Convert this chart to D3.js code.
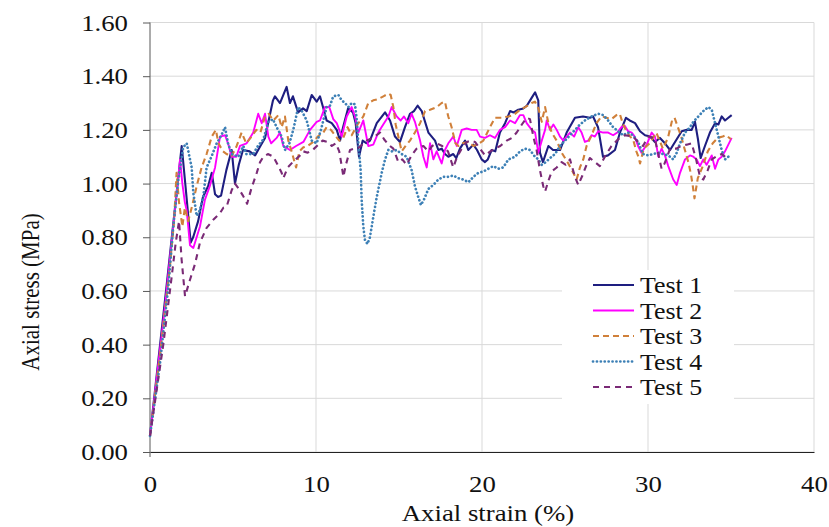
<!DOCTYPE html>
<html>
<head>
<meta charset="utf-8">
<script src="https://cdn.jsdelivr.net/npm/d3@7"></script>
<style>
  body { margin: 0; background: #fff; }
  svg { display: block; font-family: "Liberation Serif", "Times New Roman", serif; }
</style>
</head>
<body>
<div id="chart"></div>
<script>
// strain (%) , stress (MPa)
const test1 = [[0,0.06],[1.0,0.62],[1.91,1.14],[2.2,0.95],[2.45,0.78],[2.6,0.80],[2.9,0.86],[3.19,0.95],[3.5,0.99],[3.72,1.04],[3.92,0.96],[4.1,0.95],[4.28,0.955],[4.6,1.05],[4.92,1.125],[5.12,1.00],[5.35,1.07],[5.6,1.125],[6.0,1.12],[6.33,1.105],[6.65,1.14],[6.93,1.17],[7.2,1.25],[7.41,1.31],[7.53,1.325],[7.83,1.30],[8.23,1.36],[8.43,1.30],[8.61,1.325],[8.92,1.265],[9.22,1.28],[9.44,1.27],[9.74,1.33],[10.04,1.305],[10.24,1.325],[10.42,1.285],[10.64,1.235],[10.95,1.225],[11.25,1.20],[11.45,1.16],[11.63,1.21],[11.93,1.28],[12.23,1.265],[12.39,1.225],[12.59,1.10],[12.81,1.16],[13.05,1.15],[13.25,1.16],[13.66,1.225],[14.16,1.265],[14.46,1.235],[14.76,1.175],[15.06,1.155],[15.36,1.21],[15.66,1.26],[15.9,1.27],[16.12,1.29],[16.37,1.27],[16.77,1.19],[17.17,1.16],[17.37,1.125],[17.57,1.13],[17.77,1.11],[17.97,1.10],[18.27,1.11],[18.45,1.095],[18.67,1.13],[18.98,1.16],[19.17,1.125],[19.48,1.145],[19.7,1.125],[19.98,1.09],[20.18,1.08],[20.35,1.09],[20.58,1.125],[20.8,1.12],[21.08,1.19],[21.39,1.225],[21.69,1.27],[21.9,1.265],[22.19,1.275],[22.49,1.28],[22.7,1.29],[23.0,1.32],[23.2,1.34],[23.39,1.31],[23.49,1.115],[23.67,1.08],[24.0,1.14],[24.28,1.125],[24.7,1.125],[25.1,1.19],[25.6,1.245],[26.08,1.25],[26.5,1.245],[26.69,1.25],[26.99,1.21],[27.29,1.10],[27.59,1.105],[28.01,1.125],[28.31,1.19],[28.67,1.245],[28.9,1.235],[29.22,1.225],[29.52,1.195],[29.82,1.18],[30.12,1.175],[30.42,1.155],[30.72,1.17],[31.02,1.15],[31.33,1.125],[31.73,1.165],[32.03,1.195],[32.33,1.20],[32.63,1.20],[32.83,1.23],[33.01,1.165],[33.17,1.095],[33.43,1.14],[33.73,1.19],[34.04,1.225],[34.24,1.22],[34.44,1.25],[34.64,1.235],[34.84,1.245],[35.04,1.255]];

const test2 = [[0,0.06],[0.9,0.54],[1.5,0.90],[1.81,1.09],[1.95,1.0],[2.1,0.93],[2.21,0.90],[2.41,0.77],[2.61,0.76],[3.01,0.84],[3.31,0.94],[3.6,0.99],[3.92,1.06],[4.22,1.175],[4.52,1.18],[4.7,1.15],[4.92,1.10],[5.2,1.10],[5.42,1.14],[5.82,1.15],[6.22,1.19],[6.52,1.26],[6.73,1.225],[6.93,1.26],[7.13,1.175],[7.3,1.15],[7.63,1.17],[7.83,1.19],[8.03,1.14],[8.43,1.125],[8.8,1.14],[9.24,1.155],[9.64,1.20],[10.04,1.23],[10.24,1.235],[10.54,1.285],[10.8,1.285],[11.04,1.24],[11.25,1.225],[11.55,1.175],[11.85,1.25],[12.15,1.285],[12.35,1.25],[12.55,1.19],[12.85,1.235],[13.15,1.14],[13.45,1.145],[13.75,1.19],[14.05,1.22],[14.36,1.25],[14.56,1.285],[14.86,1.25],[15.1,1.235],[15.3,1.25],[15.56,1.225],[15.76,1.26],[15.96,1.23],[16.27,1.16],[16.47,1.10],[16.67,1.06],[16.87,1.15],[17.07,1.09],[17.27,1.12],[17.57,1.075],[17.77,1.125],[17.97,1.15],[18.27,1.175],[18.48,1.14],[18.78,1.20],[19.08,1.205],[19.38,1.20],[19.68,1.20],[19.88,1.175],[20.18,1.17],[20.48,1.18],[20.78,1.17],[21.08,1.20],[21.39,1.21],[21.69,1.235],[21.99,1.225],[22.29,1.255],[22.49,1.255],[22.69,1.225],[23.0,1.20],[23.2,1.19],[23.39,1.115],[23.6,1.16],[23.8,1.20],[23.9,1.235],[24.1,1.20],[24.3,1.22],[24.5,1.20],[24.7,1.175],[24.9,1.16],[25.1,1.175],[25.3,1.19],[25.55,1.175],[25.8,1.21],[26.0,1.19],[26.2,1.155],[26.4,1.16],[26.6,1.18],[26.8,1.175],[27.0,1.195],[27.3,1.19],[27.6,1.19],[27.9,1.18],[28.15,1.19],[28.4,1.21],[28.6,1.215],[28.8,1.195],[29.02,1.19],[29.2,1.175],[29.4,1.14],[29.6,1.115],[29.92,1.145],[30.22,1.19],[30.42,1.175],[30.62,1.10],[30.82,1.13],[31.02,1.105],[31.22,1.065],[31.52,1.015],[31.73,0.995],[31.93,1.04],[32.23,1.09],[32.53,1.105],[32.73,1.10],[32.93,1.09],[33.13,1.065],[33.33,1.09],[33.53,1.07],[33.84,1.105],[34.04,1.055],[34.24,1.09],[34.44,1.10],[34.64,1.12],[34.84,1.145],[35.04,1.17]];

const test3 = [[0,0.06],[0.6,0.36],[1.2,0.69],[1.45,0.86],[1.6,1.04],[1.75,0.93],[1.95,0.84],[2.1,0.91],[2.3,0.86],[2.55,0.92],[2.81,0.99],[3.11,1.06],[3.41,1.11],[3.72,1.175],[3.97,1.20],[4.12,1.15],[4.4,1.12],[4.62,1.11],[4.9,1.10],[5.22,1.14],[5.52,1.19],[5.8,1.15],[6.12,1.175],[6.4,1.20],[6.65,1.19],[6.93,1.25],[7.15,1.26],[7.43,1.235],[7.73,1.255],[7.93,1.21],[8.13,1.25],[8.33,1.16],[8.53,1.12],[8.8,1.06],[9.0,1.12],[9.24,1.135],[9.5,1.14],[9.84,1.155],[10.1,1.175],[10.44,1.19],[10.64,1.21],[10.9,1.20],[11.14,1.18],[11.4,1.16],[11.64,1.17],[11.9,1.21],[12.15,1.18],[12.5,1.22],[12.85,1.25],[13.15,1.30],[13.45,1.31],[13.75,1.315],[14.06,1.325],[14.36,1.335],[14.5,1.33],[14.66,1.285],[14.8,1.22],[14.96,1.175],[15.16,1.12],[15.4,1.14],[15.66,1.16],[15.96,1.19],[16.27,1.225],[16.57,1.27],[16.87,1.275],[17.27,1.285],[17.57,1.30],[17.77,1.305],[17.87,1.275],[17.97,1.25],[18.17,1.21],[18.4,1.15],[18.58,1.14],[18.78,1.15],[19.18,1.155],[19.48,1.14],[19.7,1.145],[20.08,1.16],[20.48,1.21],[20.78,1.245],[21.18,1.245],[21.59,1.25],[21.9,1.255],[22.29,1.275],[22.6,1.285],[22.99,1.30],[23.19,1.305],[23.4,1.28],[23.6,1.23],[23.8,1.285],[24.0,1.225],[24.2,1.19],[24.5,1.16],[24.8,1.115],[25.2,1.075],[25.5,1.04],[25.7,1.015],[25.9,1.06],[26.1,1.09],[26.3,1.14],[26.6,1.18],[26.9,1.225],[27.2,1.25],[27.5,1.245],[27.8,1.24],[28.1,1.255],[28.3,1.26],[28.5,1.22],[28.75,1.19],[28.92,1.175],[29.1,1.165],[29.3,1.12],[29.42,1.10],[29.52,1.075],[29.75,1.13],[30.1,1.15],[30.5,1.19],[30.9,1.13],[31.2,1.17],[31.45,1.235],[31.6,1.245],[31.8,1.21],[32.0,1.175],[32.2,1.13],[32.45,1.075],[32.6,1.03],[32.7,0.99],[32.8,0.945],[33.0,1.02],[33.3,1.065],[33.6,1.12],[33.9,1.15],[34.2,1.17],[34.5,1.175],[34.7,1.18],[35.0,1.165]];

const test4 = [[0,0.06],[0.6,0.33],[1.1,0.615],[1.4,0.84],[1.7,1.01],[2.0,1.135],[2.21,1.15],[2.51,1.06],[2.61,0.965],[2.81,0.88],[3.0,0.90],[3.21,0.95],[3.41,1.06],[3.7,1.10],[4.02,1.15],[4.3,1.18],[4.52,1.21],[4.7,1.15],[4.92,1.11],[5.32,1.10],[5.62,1.14],[5.8,1.11],[6.22,1.11],[6.5,1.14],[6.83,1.165],[7.13,1.23],[7.4,1.24],[7.63,1.21],[7.93,1.175],[8.13,1.125],[8.4,1.15],[8.63,1.20],[8.93,1.285],[9.15,1.27],[9.44,1.235],[9.74,1.16],[10.04,1.15],[10.3,1.20],[10.64,1.285],[10.84,1.29],[11.04,1.325],[11.35,1.33],[11.55,1.31],[11.75,1.30],[11.95,1.285],[12.15,1.30],[12.35,1.295],[12.45,1.24],[12.55,1.15],[12.69,1.05],[12.75,0.94],[12.85,0.84],[12.95,0.79],[13.1,0.775],[13.25,0.80],[13.45,0.875],[13.66,0.95],[13.96,1.04],[14.16,1.09],[14.36,1.125],[14.56,1.12],[14.86,1.125],[15.16,1.11],[15.46,1.10],[15.76,1.05],[15.96,0.99],[16.16,0.95],[16.32,0.92],[16.5,0.94],[16.77,0.98],[17.07,0.995],[17.37,1.015],[17.67,1.025],[17.97,1.025],[18.27,1.03],[18.58,1.02],[18.87,1.015],[19.18,1.005],[19.48,1.025],[19.78,1.04],[20.08,1.045],[20.38,1.055],[20.68,1.065],[20.98,1.055],[21.28,1.06],[21.59,1.09],[21.99,1.10],[22.29,1.12],[22.59,1.13],[22.89,1.125],[23.19,1.10],[23.4,1.09],[23.6,1.07],[23.85,1.08],[24.1,1.095],[24.4,1.11],[24.7,1.14],[25.0,1.16],[25.3,1.18],[25.6,1.20],[25.9,1.22],[26.2,1.235],[26.6,1.25],[27.0,1.26],[27.3,1.255],[27.6,1.235],[27.9,1.21],[28.2,1.195],[28.5,1.18],[28.8,1.19],[29.1,1.18],[29.4,1.155],[29.7,1.11],[30.0,1.105],[30.3,1.11],[30.62,1.115],[30.9,1.11],[31.22,1.105],[31.52,1.09],[31.73,1.115],[31.93,1.15],[32.23,1.19],[32.53,1.21],[32.73,1.23],[33.03,1.25],[33.33,1.27],[33.64,1.285],[33.84,1.275],[34.04,1.225],[34.24,1.175],[34.44,1.125],[34.64,1.09],[34.84,1.10]];

const test5 = [[0,0.06],[0.8,0.40],[1.31,0.655],[1.55,0.78],[1.75,0.86],[1.9,0.72],[2.11,0.58],[2.4,0.64],[2.71,0.70],[3.01,0.78],[3.41,0.835],[3.81,0.865],[4.22,0.89],[4.42,0.91],[4.62,0.915],[4.92,0.975],[5.12,1.00],[5.35,0.98],[5.6,0.955],[5.85,0.925],[6.1,0.98],[6.43,1.04],[6.63,1.08],[6.83,1.10],[7.1,1.11],[7.43,1.10],[7.73,1.065],[7.93,1.04],[8.03,1.02],[8.3,1.06],[8.6,1.08],[9.04,1.105],[9.24,1.12],[9.5,1.115],[9.8,1.125],[10.14,1.145],[10.4,1.16],[10.7,1.155],[10.95,1.14],[11.2,1.15],[11.4,1.12],[11.55,1.065],[11.65,1.025],[11.8,1.07],[12.05,1.125],[12.3,1.13],[12.6,1.135],[13.05,1.16],[13.4,1.17],[13.86,1.19],[14.1,1.165],[14.36,1.145],[14.66,1.13],[14.96,1.08],[15.2,1.09],[15.46,1.07],[15.76,1.105],[16.06,1.13],[16.47,1.14],[16.77,1.12],[17.0,1.14],[17.27,1.15],[17.6,1.14],[17.95,1.12],[18.27,1.06],[18.5,1.10],[18.78,1.13],[19.08,1.155],[19.35,1.16],[19.58,1.155],[19.88,1.13],[20.18,1.105],[20.5,1.12],[20.78,1.13],[21.1,1.14],[21.49,1.16],[21.8,1.17],[22.09,1.19],[22.4,1.22],[22.69,1.245],[22.89,1.24],[23.09,1.175],[23.29,1.125],[23.49,1.05],[23.69,0.99],[23.8,0.97],[24.0,1.01],[24.2,1.045],[24.5,1.06],[24.8,1.08],[25.05,1.07],[25.3,1.09],[25.6,1.025],[25.8,0.995],[26.05,1.03],[26.3,1.07],[26.5,1.095],[26.8,1.08],[27.1,1.065],[27.4,1.10],[27.8,1.14],[28.2,1.165],[28.6,1.18],[29.1,1.175],[29.4,1.155],[29.7,1.14],[30.02,1.175],[30.4,1.17],[30.82,1.055],[31.0,1.075],[31.33,1.13],[31.7,1.13],[32.0,1.14],[32.33,1.145],[32.63,1.15],[32.9,1.09],[33.13,1.025],[33.33,1.015],[33.6,1.05],[33.84,1.09],[34.1,1.10],[34.44,1.11],[34.74,1.095]];

const seriesNames = ["Test 1", "Test 2", "Test 3", "Test 4", "Test 5"];
const xTicks = [0, 10, 20, 30, 40];
const yTicks = [0, 0.2, 0.4, 0.6, 0.8, 1.0, 1.2, 1.4, 1.6];

// styles per series
const styles = [
  { color: "#1e1e80", width: 2.1, dash: null, cap: "butt" },
  { color: "#ff00ff", width: 1.9, dash: null, cap: "butt" },
  { color: "#d0803a", width: 2.1, dash: "6,4", cap: "butt" },
  { color: "#3d80b6", width: 2.7, dash: "0.1,3.8", cap: "round" },
  { color: "#7a2a76", width: 2.1, dash: "6,5", cap: "butt" }
];

const allData = [test1, test2, test3, test4, test5];

const width = 829, height = 527;
const margin = { top: 22.5, right: 15, bottom: 75, left: 150 };
const stretch = 1.14; // labels in the figure are a bit wider than tall

const svg = d3.select("#chart").append("svg")
  .attr("width", width)
  .attr("height", height);

const x = d3.scaleLinear().domain([0, 40]).range([margin.left, width - margin.right]);
const y = d3.scaleLinear().domain([0, 1.6]).range([height - margin.bottom, margin.top]);

// gridlines
svg.append("g")
  .selectAll("line.hgrid")
  .data(yTicks)
  .join("line")
  .attr("x1", x(0)).attr("x2", x(40))
  .attr("y1", d => y(d)).attr("y2", d => y(d))
  .attr("stroke", "#d9d9d9").attr("stroke-width", 1);

svg.append("g")
  .selectAll("line.vgrid")
  .data(xTicks.slice(1))
  .join("line")
  .attr("x1", d => x(d)).attr("x2", d => x(d))
  .attr("y1", y(0)).attr("y2", y(1.6))
  .attr("stroke", "#d9d9d9").attr("stroke-width", 1);

// axes
const yAxis = d3.axisLeft(y).tickValues(yTicks).tickFormat(d3.format(".2f")).tickSize(7);
const gy = svg.append("g").attr("transform", `translate(${x(0)},0)`).call(yAxis);
gy.select(".domain").attr("stroke", "#595959").attr("d", `M0,${y(1.6)}V${y(0) + 5}`);
gy.selectAll(".tick line").attr("stroke", "#595959");
gy.selectAll("text")
  .attr("x", -22 / stretch)
  .attr("transform", `scale(${stretch},1)`)
  .attr("font-size", 23.5).attr("fill", "#111")
  .attr("font-family", "Liberation Serif, Times New Roman, serif");

const xAxis = d3.axisBottom(x).tickValues(xTicks).tickSize(0).tickPadding(23);
const gx = svg.append("g").attr("transform", `translate(0,${y(0)})`).call(xAxis);
gx.select(".domain").attr("stroke", "#222");
gx.selectAll("text")
  .attr("transform", `scale(${stretch},1)`)
  .attr("font-size", 23.5).attr("fill", "#111")
  .attr("font-family", "Liberation Serif, Times New Roman, serif");

// axis titles
svg.append("text")
  .attr("transform", `translate(488,521) scale(${stretch},1)`)
  .attr("text-anchor", "middle")
  .attr("font-size", 23.5).attr("fill", "#111")
  .text("Axial strain (%)");

svg.append("text")
  .attr("transform", "translate(30.5,292) scale(1.2,1) rotate(-90)")
  .attr("text-anchor", "middle")
  .attr("dy", "0.35em")
  .attr("font-size", 21).attr("fill", "#111")
  .text("Axial stress (MPa)");

// series
const line = d3.line().x(d => x(d[0])).y(d => y(d[1]));

svg.append("g")
  .selectAll("path")
  .data(allData)
  .join("path")
  .attr("d", line)
  .attr("fill", "none")
  .attr("stroke", (d, i) => styles[i].color)
  .attr("stroke-width", (d, i) => styles[i].width)
  .attr("stroke-dasharray", (d, i) => styles[i].dash)
  .attr("stroke-linecap", (d, i) => styles[i].cap)
  .attr("stroke-linejoin", "round");

// legend
const legend = svg.append("g").attr("transform", "translate(562,270)");
legend.append("rect")
  .attr("x", 0).attr("y", 0).attr("width", 172).attr("height", 134)
  .attr("fill", "#fff");

const rows = legend.selectAll("g.row")
  .data(seriesNames)
  .join("g")
  .attr("transform", (d, i) => `translate(0,${15 + i * 25.5})`);

rows.append("line")
  .attr("x1", 31).attr("x2", 72).attr("y1", 0).attr("y2", 0)
  .attr("stroke", (d, i) => styles[i].color)
  .attr("stroke-width", (d, i) => styles[i].width)
  .attr("stroke-dasharray", (d, i) => styles[i].dash)
  .attr("stroke-linecap", (d, i) => styles[i].cap);

rows.append("text")
  .attr("transform", "translate(78,0) scale(1.08,1)")
  .attr("dy", "0.35em")
  .attr("font-size", 24).attr("fill", "#111")
  .text(d => d);
</script>
</body>
</html>
